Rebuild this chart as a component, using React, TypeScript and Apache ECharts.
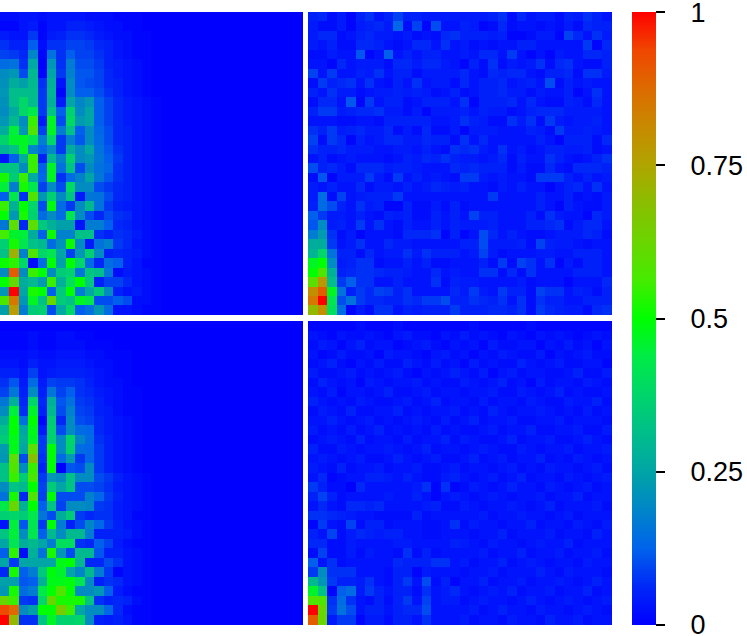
import React, { useEffect, useRef } from "react";
import * as echarts from "echarts";

// Values are in hundredths; rows run top to bottom. Left-panel rows list only up to the last non-zero cell.
const topLeft: number[][] = [
[2,2,3,3,2,3,3,3,3,2,2,2,1,1,1],
[1,1,3,4,1,3,3,5,5,4,3,2,2,1,1],
[4,3,3,8,1,4,5,7,7,6,4,3,2,2,1,1],
[7,5,5,12,2,7,7,9,9,8,6,5,3,2,1,1],
[9,8,6,19,1,15,7,12,9,9,7,5,3,2,1,1],
[14,15,7,26,0,22,7,17,10,10,8,5,4,3,2,1],
[20,22,10,30,1,25,8,18,11,11,9,6,4,3,2,1],
[21,27,24,30,7,28,3,20,11,10,9,6,5,3,2,1],
[22,31,31,31,8,29,1,20,12,12,10,7,5,3,2,1],
[21,31,38,31,8,28,4,25,19,22,12,9,6,4,3,2,1],
[20,26,38,43,8,33,12,37,20,25,12,9,6,4,3,2,1],
[22,30,20,55,4,47,10,39,23,25,12,9,6,4,3,2,1],
[27,45,22,58,9,47,17,32,12,20,13,10,6,5,3,2,1],
[37,46,47,42,17,38,8,18,11,20,14,10,6,5,3,2,1],
[28,32,47,19,13,20,8,27,20,26,15,11,7,5,3,2,1],
[3,12,27,55,5,30,18,37,20,22,16,12,8,5,3,2,1],
[33,33,20,55,12,47,15,32,10,20,15,13,7,5,3,2,1],
[52,35,55,27,13,47,7,14,18,25,16,11,7,5,3,2,1],
[45,17,52,43,9,20,10,39,20,20,10,8,6,5,3,2,1],
[12,43,7,58,22,36,20,33,4,16,15,10,6,5,3,2,1],
[55,28,50,38,10,49,14,8,20,30,15,8,5,4,3,2,1],
[50,22,52,37,14,20,14,42,20,10,6,10,7,6,3,2,1],
[16,60,6,60,34,28,24,24,3,17,17,12,6,5,3,2,1],
[56,46,45,27,12,51,18,18,32,32,7,5,7,6,4,2,1],
[36,52,42,32,30,14,21,51,20,4,15,18,8,6,3,2,1],
[32,72,18,58,38,42,25,9,22,36,20,5,6,5,4,2,1],
[51,54,38,2,14,50,24,50,38,14,6,14,12,5,3,1,1],
[20,90,20,55,50,20,35,37,16,33,31,16,2,4,3,2,1],
[50,62,27,30,23,55,28,40,50,34,5,9,9,6,3,2,1],
[22,100,25,52,50,12,34,50,17,26,34,20,5,3,4,2,1],
[57,85,22,47,32,62,35,32,47,43,10,10,12,10,2,2,1],
[24,77,17,35,36,10,26,38,12,15,22,14,3,3,2,1,1],
];

const bottomLeft: number[][] = [
[],
[1,1,1,2,1,1,2,2,1,1],
[1,1,1,2,1,1,2,2,2,1,1,1],
[2,2,2,3,2,2,3,3,3,2,2,1,1,1],
[3,3,2,5,3,3,4,4,4,3,2,2,1,1],
[5,5,3,9,3,4,5,5,5,4,3,2,1,1],
[7,11,4,14,4,9,8,8,7,5,3,2,2,1],
[9,16,5,20,5,16,9,12,7,6,4,3,2,1,1],
[16,28,6,38,6,28,11,15,8,7,5,3,2,1,1],
[20,45,7,46,5,30,10,18,9,8,5,4,2,1,1],
[27,50,15,50,1,35,6,20,10,9,6,4,3,2,1],
[32,50,25,48,4,36,10,20,14,13,6,4,3,2,1],
[35,48,27,47,8,37,20,38,19,14,7,5,3,2,1],
[23,48,25,60,8,50,20,37,14,13,8,5,3,2,1],
[22,60,10,68,7,50,14,23,8,13,8,5,3,2,1],
[32,58,20,55,5,50,0,11,10,20,8,5,3,2,1],
[32,55,35,57,8,22,20,32,20,20,10,8,5,3,2,1],
[20,33,30,50,9,35,25,33,10,10,9,7,4,3,2,1],
[15,52,6,58,9,50,10,10,10,18,13,8,5,3,2,1],
[43,62,28,50,12,33,9,20,20,19,8,7,4,3,2,1],
[36,38,35,43,16,10,27,35,8,6,7,7,4,3,1,1],
[3,45,11,42,8,50,17,5,10,19,13,8,5,3,2,1],
[33,45,20,42,12,30,20,30,30,17,5,5,5,4,2,1],
[25,42,27,30,25,17,40,40,7,6,12,9,4,2,1,1],
[12,54,2,28,15,52,22,10,30,30,11,5,5,3,2,1],
[25,8,25,25,25,25,48,50,30,6,6,10,7,3,2,1],
[6,52,12,17,34,49,46,25,19,30,17,8,1,3,2,1],
[24,24,11,12,28,48,48,49,42,20,5,7,6,3,2,1],
[22,52,14,17,43,50,58,50,20,20,22,12,4,2,1,1],
[62,55,8,7,38,62,52,52,52,33,7,5,6,5,2,1],
[93,88,20,24,50,50,65,55,25,20,20,13,6,2,1,1],
[100,70,7,7,33,47,37,37,38,20,5,4,5,3,1,1],
];

const topRight: number[][] = [
[5,6,2,4,1,5,7,3,5,9,5,5,4,4,4,4,4,4,4,5,7,2,6,3,4,4,2,5,4,7,5,3],
[4,2,2,4,1,4,5,6,4,13,2,9,1,10,3,3,5,4,1,2,6,2,3,3,2,3,2,4,2,6,5,5],
[4,6,6,2,3,5,6,4,4,3,4,2,3,2,6,7,5,5,5,4,5,1,1,2,4,4,1,9,6,3,7,4],
[4,3,5,2,2,6,6,5,3,2,3,6,6,3,7,3,4,2,3,2,3,3,5,5,3,3,3,3,3,8,1,6],
[2,2,4,3,3,11,1,3,12,3,5,3,5,5,3,3,4,3,6,6,3,8,3,1,3,1,4,3,3,6,6,5],
[3,3,1,6,3,4,4,4,2,6,6,4,6,6,4,3,1,5,2,7,2,4,3,4,7,2,6,7,3,2,2,5],
[9,3,8,3,3,5,4,7,3,5,5,2,4,4,4,4,6,3,2,6,5,6,6,3,2,5,5,6,2,7,7,4],
[2,8,5,6,7,3,7,3,2,5,3,7,3,4,4,2,6,3,5,5,6,3,4,5,3,10,2,5,3,4,3,3],
[5,3,7,4,4,2,3,4,4,5,4,5,4,2,3,5,2,3,5,5,6,4,4,2,4,3,3,5,1,3,7,3],
[2,6,6,3,11,1,8,3,5,5,2,3,5,5,5,3,7,1,5,5,5,6,3,6,3,2,2,5,4,2,6,3],
[5,8,8,4,5,6,6,7,4,4,2,4,1,4,4,4,5,3,5,4,4,2,3,5,6,6,6,4,4,4,4,3],
[3,3,3,2,2,3,3,2,5,5,5,5,5,3,3,4,7,5,4,2,2,7,4,7,2,8,4,3,4,4,5,3],
[7,5,8,4,5,6,4,4,6,2,4,2,6,2,2,4,1,4,4,4,3,3,3,5,4,2,8,4,4,5,4,3],
[9,2,8,6,1,5,3,4,6,6,4,4,6,5,5,2,7,3,6,3,3,3,3,3,5,3,1,5,5,5,2,6],
[7,5,5,6,4,4,4,3,3,4,4,3,5,3,2,7,6,7,4,3,7,3,4,2,3,5,5,4,4,5,2,3],
[3,5,2,3,4,3,3,3,2,3,5,4,6,5,7,5,4,4,3,4,6,2,5,3,3,7,5,3,2,3,5,7],
[10,5,6,4,2,6,6,6,4,5,5,4,3,3,3,6,5,6,5,5,5,2,4,2,2,6,3,2,6,6,6,5],
[2,11,1,4,4,4,8,4,2,8,3,5,3,4,3,2,8,8,4,3,4,3,3,2,8,8,8,5,3,5,3,4],
[4,3,5,3,3,6,2,4,4,3,5,3,4,6,5,4,5,3,3,2,4,3,5,3,3,1,3,5,6,3,7,3],
[4,14,2,9,3,4,5,5,5,8,3,3,3,3,3,3,3,3,3,8,3,3,3,3,5,3,3,5,2,3,2,4],
[5,14,10,5,3,7,4,5,1,1,5,2,2,4,2,5,2,3,3,3,3,3,3,3,5,3,1,5,3,2,2,4],
[12,8,4,4,3,5,3,2,5,4,5,2,2,5,3,5,3,9,5,5,3,3,3,5,2,7,4,3,3,1,6,4],
[11,20,4,5,3,8,3,7,3,2,5,3,3,5,3,5,4,4,4,5,3,3,3,5,5,6,7,2,4,6,6,3],
[17,23,7,2,4,1,3,3,3,2,6,6,6,7,1,5,1,3,10,6,3,5,3,2,2,3,4,4,4,6,5,2],
[27,27,8,3,4,7,3,3,6,4,4,3,3,3,3,3,5,5,10,4,4,4,5,2,9,5,4,4,3,2,3,3],
[29,38,15,5,5,2,6,3,4,4,7,4,7,5,5,5,3,4,9,4,2,3,3,3,4,4,3,3,5,5,5,3],
[47,50,20,4,5,7,7,2,3,3,5,3,5,2,2,3,3,3,5,2,8,2,9,7,3,7,1,4,2,5,5,3],
[50,58,28,5,6,7,7,6,5,5,4,3,3,6,3,4,3,3,7,7,2,6,2,7,3,3,3,3,5,5,5,3],
[60,78,31,8,12,7,7,3,3,5,3,3,3,7,2,5,4,4,3,3,3,3,4,2,3,3,3,1,3,3,3,6],
[80,90,47,15,5,8,6,9,8,5,7,3,3,3,3,6,4,8,4,3,8,5,5,2,9,7,7,3,5,4,2,5],
[85,100,42,10,15,8,6,6,5,5,7,6,8,8,10,5,5,7,6,5,7,3,7,2,7,5,5,3,3,5,5,5],
[70,80,40,14,1,4,2,7,7,3,5,4,5,5,5,8,5,5,5,6,6,5,7,2,8,6,5,4,4,2,6,7],
];

const bottomRight: number[][] = [
[1,1,1,1,1,2,1,1,1,2,1,1,1,1,1,1,1,2,1,1,1,1,1,2,1,1,1,1,1,1,1,1],
[3,2,1,3,2,2,3,2,1,3,4,2,2,1,3,2,4,2,3,2,1,3,2,1,3,2,3,2,1,2,3,2],
[2,4,3,1,3,5,2,3,3,1,2,3,4,2,1,3,2,3,1,4,2,2,3,3,1,3,2,4,2,3,1,3],
[3,1,2,4,2,2,3,1,4,3,3,2,1,3,4,2,3,1,3,2,4,3,2,2,4,1,3,2,3,4,2,2],
[2,3,5,2,1,3,2,4,2,2,5,3,2,4,2,3,1,4,2,3,2,2,5,3,2,3,4,2,2,3,3,1],
[4,2,2,3,4,2,3,2,3,4,2,1,3,2,3,5,3,2,4,1,3,4,2,3,3,2,2,3,5,2,2,4],
[2,5,3,2,3,1,4,3,2,3,3,4,2,3,2,2,4,3,2,3,5,2,3,1,4,2,3,3,2,4,3,2],
[3,2,4,1,3,3,2,3,5,2,2,3,4,2,3,3,2,3,3,4,2,2,4,3,2,3,5,2,3,2,2,3],
[5,3,2,3,2,4,3,2,2,3,4,2,3,5,2,3,3,2,4,2,3,3,2,4,3,2,2,4,3,3,5,2],
[2,4,3,2,5,2,2,3,3,5,2,3,2,3,3,4,2,3,2,5,3,2,3,3,4,3,2,3,2,4,2,3],
[3,3,5,3,2,3,4,2,3,2,3,4,3,2,4,2,3,5,2,3,3,4,2,2,3,3,4,2,3,3,3,2],
[4,2,3,2,4,2,3,5,2,3,2,3,2,4,2,3,2,2,3,4,2,3,3,5,2,2,3,3,4,2,2,4],
[2,3,4,3,2,5,2,3,3,2,4,2,3,3,5,2,4,3,2,2,3,5,2,3,3,4,2,2,3,5,3,2],
[5,2,2,4,3,2,3,3,4,3,2,3,5,2,3,3,2,3,4,3,2,2,4,3,2,3,3,4,2,3,3,4],
[3,4,3,2,3,4,2,2,3,5,3,2,3,4,2,2,3,5,2,3,4,2,3,3,5,2,3,2,4,3,2,3],
[4,3,2,5,2,3,3,4,2,3,3,4,2,2,3,4,2,3,3,2,3,4,2,3,2,4,3,3,2,3,4,2],
[3,6,1,2,3,3,5,5,4,3,5,3,2,2,4,5,3,2,3,4,2,3,5,2,3,3,2,4,3,2,3,4],
[8,5,2,2,0,6,3,3,3,3,3,4,7,1,7,1,2,4,3,2,3,5,3,3,2,4,3,2,3,4,2,3],
[5,9,5,2,3,3,3,3,4,3,3,5,3,1,3,4,3,2,3,4,3,2,3,3,4,2,3,3,5,2,3,3],
[3,6,3,2,6,6,5,6,3,3,3,3,4,5,2,2,4,3,2,3,3,4,3,2,3,5,2,3,3,3,4,2],
[7,7,6,5,4,3,3,2,2,2,2,5,2,3,3,3,3,3,4,2,3,3,4,3,3,2,3,4,2,3,3,3],
[1,8,3,2,9,2,5,5,2,3,3,3,2,2,3,7,2,4,3,3,2,3,3,5,2,3,3,2,4,3,2,4],
[5,3,9,2,4,6,5,4,5,5,3,3,2,2,3,3,3,2,3,3,5,2,3,3,3,4,2,3,3,2,5,3],
[6,6,2,2,4,3,3,3,3,4,4,3,3,3,3,5,4,3,2,4,3,3,2,3,4,3,3,5,2,3,3,3],
[2,9,2,2,4,2,4,3,3,2,7,2,5,2,3,3,3,3,4,2,3,3,5,2,3,3,4,2,3,3,4,2],
[12,3,7,2,3,3,3,3,3,6,5,5,5,7,7,3,4,2,3,3,5,2,3,4,3,2,3,3,2,4,3,3],
[8,20,7,7,7,3,3,3,2,5,5,1,4,3,3,3,2,3,3,4,2,3,3,3,5,3,2,4,3,3,3,2],
[30,22,8,5,5,4,7,3,2,5,8,3,10,2,5,1,3,3,5,2,3,3,4,2,3,3,4,3,2,3,5,3],
[46,32,1,12,14,4,8,5,3,5,5,2,7,3,4,6,3,2,3,4,3,5,2,3,3,4,2,3,3,5,2,3],
[58,58,7,14,7,3,2,5,2,5,8,3,9,3,4,4,2,3,4,3,3,2,3,5,3,2,3,4,3,2,3,4],
[100,62,8,15,10,3,5,5,3,5,6,6,10,3,3,3,3,4,2,3,5,3,3,2,4,3,3,2,3,4,3,2],
[90,62,4,8,8,1,4,4,2,5,5,3,7,3,3,3,4,2,3,3,2,4,3,3,2,5,3,3,4,2,3,3],
];

const colorbarTicks = [0, 0.25, 0.5, 0.75, 1];
const rampColors = [
  "#0000ff", "#0028f8", "#0064eb", "#0085c8", "#00a5a5", "#00be8a", "#00d56b", "#00eb46",
  "#00ff00",
  "#46eb00", "#6bd500", "#8abe00", "#b0a500", "#c88a00", "#dd6b00", "#f04600", "#ff0000",
];
const panels = [topLeft, topRight, bottomLeft, bottomRight];
const gridCount = 32;
const indices = Array.from({ length: gridCount }, (_, i) => i);
const cells = (rows: number[][]) =>
  rows.flatMap((r, y) => indices.map((x) => [x, y, (r[x] ?? 0) / 100]));

const boxes = [
  { left: -0.6, top: 12.2 },
  { left: 308.4, top: 12.2 },
  { left: -0.6, top: 321.4 },
  { left: 308.4, top: 321.4 },
];
const bar = { left: 631.5, top: 12, width: 24, height: 612.5 };

export default function App() {
  const ref = useRef<HTMLDivElement>(null);
  useEffect(() => {
    const chart = echarts.init(ref.current!, undefined, { renderer: "svg" });
    chart.setOption({
      animation: false,
      backgroundColor: "#ffffff",
      grid: [
        ...boxes.map((b) => ({ left: b.left, top: b.top, width: 303.2, height: 303 })),
        bar,
      ],
      xAxis: [
        ...boxes.map((_, i) => ({
          type: "category",
          gridIndex: i,
          data: indices,
          show: false,
        })),
        { type: "value", gridIndex: 4, show: false, min: 0, max: 1 },
      ],
      yAxis: [
        ...boxes.map((_, i) => ({
          type: "category",
          gridIndex: i,
          data: indices,
          inverse: true,
          show: false,
        })),
        {
          type: "value",
          gridIndex: 4,
          position: "right",
          min: 0,
          max: 1,
          interval: 0.25,
          splitLine: { show: false },
          axisLine: { show: true, onZero: false, lineStyle: { color: "rgba(0,0,0,0)" } },
          axisTick: { show: true, length: 9, lineStyle: { color: "#000", width: 2 } },
          axisLabel: { show: false },
        },
      ],
      visualMap: {
        type: "continuous",
        show: false,
        min: 0,
        max: 1,
        seriesIndex: [0, 1, 2, 3],
        inRange: { color: rampColors },
      },
      graphic: [
        {
          type: "rect",
          shape: { x: bar.left, y: bar.top, width: bar.width, height: bar.height },
          style: {
            fill: new echarts.graphic.LinearGradient(
              0,
              1,
              0,
              0,
              rampColors.map((color, i) => ({ offset: i / (rampColors.length - 1), color }))
            ),
          },
        },
        ...colorbarTicks.map((v) => ({
          type: "text",
          x: 690.5,
          y: bar.top + bar.height * (1 - v) + 0.5,
          style: {
            text: String(v),
            fill: "#000",
            font: '27px "Liberation Sans"',
            verticalAlign: "middle",
            align: "left",
          },
        })),
      ],
      series: panels.map((rows, i) => ({
        type: "heatmap",
        xAxisIndex: i,
        yAxisIndex: i,
        data: cells(rows),
        itemStyle: { borderWidth: 0 },
        emphasis: { disabled: true },
      })),
    });
    return () => chart.dispose();
  }, []);
  return (
    <div
      ref={ref}
      style={{
        position: "absolute",
        left: 0,
        top: 0,
        width: 747,
        height: 636,
        shapeRendering: "crispEdges",
      }}
    />
  );
}
